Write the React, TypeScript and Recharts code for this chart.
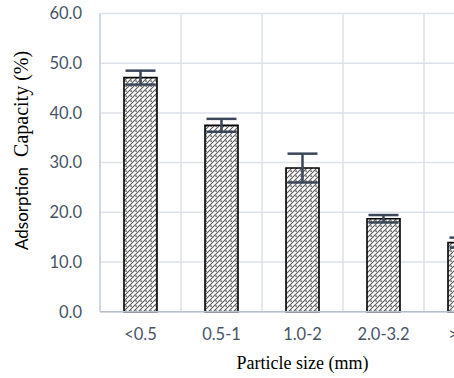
import React from 'react';
import { BarChart, Bar, XAxis, YAxis, CartesianGrid, ErrorBar, Label } from 'recharts';

const categories = ['<0.5', '0.5-1', '1.0-2', '2.0-3.2', '>3.2'];
const capacity = [47.1, 37.5, 28.9, 18.7, 13.9];
const errors = [1.4, 1.3, 2.9, 0.75, 1.0];
const yTicks = [0, 10, 20, 30, 40, 50, 60];

const data = categories.map((c, i) => ({ name: c, value: capacity[i], err: errors[i] }));

const TICK_FONT = 'Lato, "Noto Sans", sans-serif';
const SERIF = '"Liberation Serif", "Times New Roman", serif';

const YLabel = () => {
  const cx = 28;
  const cy = 250;
  return (
    <text x={cx} y={cy} transform={`rotate(-90, ${cx}, ${cy})`} textAnchor="start" fill="#000">
      <tspan fontFamily={TICK_FONT} fontSize={17}>Adsorption</tspan>
      <tspan fontFamily={SERIF} fontSize={20} dx={10}>Capacity (%)</tspan>
    </text>
  );
};

const XLabel = (props: any) => {
  const vb = props.viewBox || {};
  const cx = vb.x + vb.width / 2;
  return (
    <text x={cx} y={369} textAnchor="middle" fontFamily={SERIF} fontSize={18} fill="#000">
      Particle size (mm)
    </text>
  );
};

export default function App() {
  return (
    <div style={{ position: 'absolute', left: 0, top: 0, width: 454, height: 378, overflow: 'hidden', background: '#fff' }}>
      <BarChart width={520} height={378} data={data} margin={{ top: 13.5, right: 15, left: 0, bottom: 0 }} barSize={33}>
        <defs>
          <pattern id="hatch" patternUnits="userSpaceOnUse" width="5" height="5">
            <rect width="5" height="5" fill="#fff" />
            <path d="M-1,1 L1,-1 M0,5 L5,0 M4,6 L6,4" stroke="#5a5a5a" strokeWidth="1.1" />
            <rect x="0.5" y="0.5" width="1.2" height="1.2" fill="#000" />
          </pattern>
        </defs>
        <CartesianGrid
          stroke="#dde1e8"
          strokeWidth={1.5}
          verticalCoordinatesGenerator={({ offset }: any) =>
            categories.map((_, i) => offset.left + (i * offset.width) / categories.length).concat([offset.left + offset.width])
          }
        />
        <XAxis
          dataKey="name"
          height={66.3}
          tickLine={false}
          axisLine={{ stroke: '#b9c0cc', strokeWidth: 1.5 }}
          tick={{ fill: '#475467', fontSize: 16.5, fontFamily: TICK_FONT }}
          tickMargin={11}
          interval={0}
        >
          <Label content={<XLabel />} />
        </XAxis>
        <YAxis
          width={100}
          domain={[0, 60]}
          ticks={yTicks}
          tickFormatter={(v: number) => v.toFixed(1)}
          tickLine={false}
          axisLine={{ stroke: '#c9d0db', strokeWidth: 1.5 }}
          tick={{ fill: '#475467', fontSize: 16.5, fontFamily: TICK_FONT }}
          tickMargin={12}
        >
          <Label content={<YLabel />} />
        </YAxis>
        <Bar dataKey="value" fill="url(#hatch)" stroke="#000" strokeWidth={1.6} isAnimationActive={false}>
          <ErrorBar dataKey="err" width={15} stroke="#3b4759" strokeWidth={2.5} />
        </Bar>
      </BarChart>
    </div>
  );
}
